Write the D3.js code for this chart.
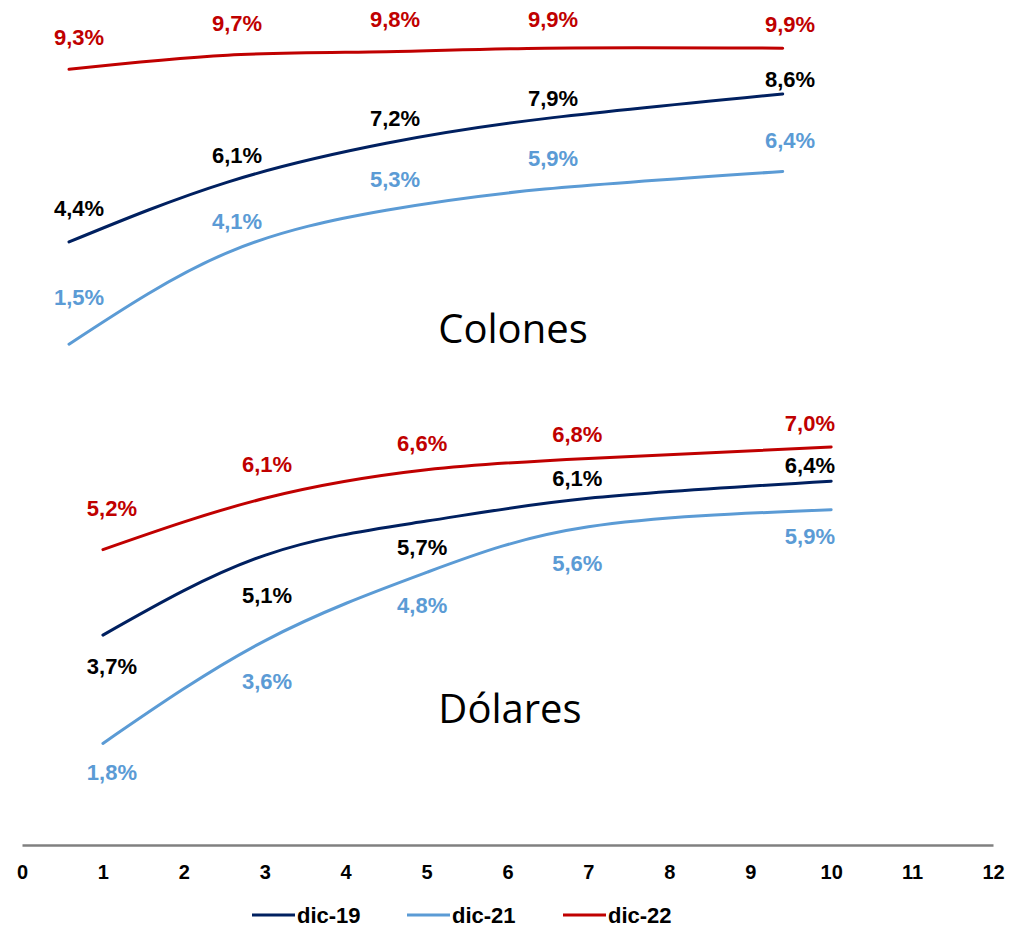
<!DOCTYPE html>
<html>
<head>
<meta charset="utf-8">
<script src="https://cdn.jsdelivr.net/npm/d3@7"></script>
<style>
  body { margin: 0; background: #fff; }
  .lbl { font-family: "Liberation Sans", Arial, sans-serif; font-weight: bold; font-size: 22px; }
  .tick text { font-family: "Liberation Sans", Arial, sans-serif; font-weight: bold; font-size: 20px; fill: #000; }
  .panel-title { font-family: "Open Sans", "Noto Sans", sans-serif; font-size: 40px; fill: #000; }
  .legend text { font-family: "Liberation Sans", Arial, sans-serif; font-weight: bold; font-size: 22px; }
</style>
</head>
<body>
<div id="chart"></div>
<script>
// plazos (años) y tasas en %
const periods = [1, 3, 5, 7, 10]
const seriesNames = ["dic-19", "dic-21", "dic-22"]
const xTickValues = [0, 1, 2, 3, 4, 5, 6, 7, 8, 9, 10, 11, 12]

const colones19 = [4.4, 6.1, 7.2, 7.9, 8.6]
const colones21 = [1.5, 4.1, 5.3, 5.9, 6.4]
const colones22 = [9.3, 9.7, 9.8, 9.9, 9.9]

const dolares19 = [3.7, 5.1, 5.7, 6.1, 6.4]
const dolares21 = [1.8, 3.6, 4.8, 5.6, 5.9]
const dolares22 = [5.2, 6.1, 6.6, 6.8, 7.0]

const lineColors = ["#002060", "#5B9BD5", "#C00000"]
const labelColors = ["#000000", "#5B9BD5", "#C00000"]

// label nudges (px, vertical) – labels were hand placed in the original
const nudgeColones = [
  [-34, -27, -25, -21, -15],
  [-47, -31, -31, -31, -31],
  [-32, -32, -33, -29, -24]
]
const nudgeDolares = [
  [31, 40, 26, -20, -16],
  [29, 40, 33, 36, 26],
  [-42, -34, -27, -24, -24]
]

const WIDTH = 1010
const HEIGHT = 927

const svg = d3.select("#chart").append("svg")
  .attr("width", WIDTH)
  .attr("height", HEIGHT)

// shared bottom axis
const x = d3.scaleLinear().domain([0, 12]).range([22, 993])

// top panel sits in its own (slightly shifted) plot area
const xTop = d3.scaleLinear().domain([0, 12]).range([-10.3, 941.3])
const xLabTop = d3.scaleLinear().domain([0, 12]).range([0, 948])
const yTop = d3.scaleLinear().domain([0, 11]).range([397, 9.4])

const xLabBot = d3.scaleLinear().domain([0, 12]).range([34.4, 965])
const yBot = d3.scaleLinear().domain([0, 7]).range([846, 447])

const fmt = v => d3.format(".1f")(v).replace(".", ",") + "%"

function drawPanel(seriesList, xs, xl, ys, nudges, title, titleX, titleY) {
  const g = svg.append("g")
  const line = d3.line()
    .x((d, i) => xs(periods[i]))
    .y(d => ys(d))
    .curve(d3.curveNatural)

  seriesList.forEach((vals, s) => {
    g.append("path")
      .datum(vals)
      .attr("d", line)
      .attr("fill", "none")
      .attr("stroke", lineColors[s])
      .attr("stroke-width", 3)
      .attr("stroke-linecap", "round")
  })

  seriesList.forEach((vals, s) => {
    g.selectAll(null)
      .data(vals)
      .enter()
      .append("text")
      .attr("class", "lbl")
      .attr("x", (d, i) => xl(periods[i]))
      .attr("y", (d, i) => ys(d) + nudges[s][i])
      .attr("dy", "0.36em")
      .attr("text-anchor", "middle")
      .attr("fill", labelColors[s])
      .text(d => fmt(d))
  })

  g.append("text")
    .attr("class", "panel-title")
    .attr("x", titleX)
    .attr("y", titleY)
    .attr("text-anchor", "middle")
    .text(title)
}

drawPanel([colones19, colones21, colones22], xTop, xLabTop, yTop, nudgeColones, "Colones", 513, 343)
drawPanel([dolares19, dolares21, dolares22], x, xLabBot, yBot, nudgeDolares, "Dólares", 510, 723)

// x axis
const xAxis = svg.append("g")
  .attr("transform", "translate(0, 845)")
  .call(d3.axisBottom(x).tickValues(xTickValues).tickSize(0).tickPadding(20).tickFormat(d3.format("d")))
xAxis.select(".domain").attr("stroke", "#808080").attr("stroke-width", 2.5)

// legend
const legend = svg.append("g").attr("class", "legend")
const legendX = [252, 407, 563]
seriesNames.forEach((name, i) => {
  legend.append("line")
    .attr("x1", legendX[i]).attr("x2", legendX[i] + 43)
    .attr("y1", 915).attr("y2", 915)
    .attr("stroke", lineColors[i])
    .attr("stroke-width", 3)
  legend.append("text")
    .attr("x", legendX[i] + 45)
    .attr("y", 923)
    .text(name)
})
</script>
</body>
</html>
